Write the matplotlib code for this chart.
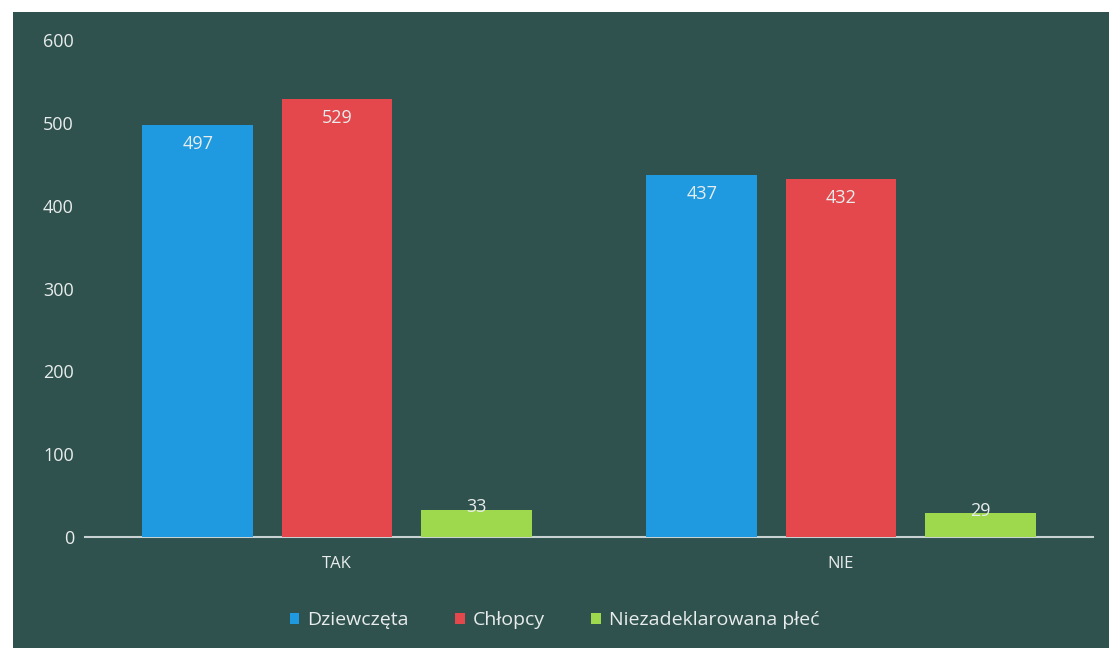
import matplotlib
matplotlib.use("Agg")
import matplotlib.pyplot as plt
import numpy as np
from matplotlib.patches import Rectangle

categories = ["TAK", "NIE"]
series_names = ["Dziewczęta", "Chłopcy", "Niezadeklarowana płeć"]
dziewczeta = [497, 437]
chlopcy = [529, 432]
niezadeklarowana = [33, 29]
y_ticks = [0, 100, 200, 300, 400, 500, 600]

colors = ["#1f9ae0", "#e5484c", "#9ed84c"]
bg = "#2f524f"
txt = "#e8ecec"

W, H = 1109, 648
fig = plt.figure(figsize=(W / 100, H / 100), dpi=100)
fig.patch.set_facecolor("white")
fig.patches.append(Rectangle((13 / W, 0), 1 - 13 / W, 1 - 12 / H,
                             transform=fig.transFigure, facecolor=bg,
                             edgecolor="none", zorder=-10))

left, right = 85 / W, 1093 / W
bottom, top = 1 - 537 / H, 1 - 40 / H
ax = fig.add_axes([left, bottom, right - left, top - bottom])
ax.set_facecolor("none")

x = np.arange(len(categories))
offset = 0.276
width = 0.22
data = [dziewczeta, chlopcy, niezadeklarowana]
for i, (vals, c, name) in enumerate(zip(data, colors, series_names)):
    pos = x + (i - 1) * offset
    bars = ax.bar(pos, vals, width=width, color=c, label=name, zorder=3)
    for b, v in zip(bars, vals):
        if v > 100:
            ax.text(b.get_x() + b.get_width() / 2, v - 12, str(v),
                    ha="center", va="top", color=txt, fontsize=13,
                    family="Open Sans", zorder=4)
        else:
            ax.text(b.get_x() + b.get_width() / 2, v - 8, str(v),
                    ha="center", va="bottom", color=txt, fontsize=13,
                    family="Open Sans", zorder=4)

ax.set_xlim(-0.5, len(categories) - 0.5)
ax.set_ylim(0, 600)
ax.set_yticks(y_ticks)
ax.set_yticklabels([str(t) for t in y_ticks], color=txt, fontsize=13,
                   family="Open Sans")
ax.set_xticks(x)
ax.set_xticklabels(categories, color=txt, fontsize=12, family="Open Sans")
ax.tick_params(axis="both", length=0)
ax.tick_params(axis="y", pad=8)
ax.tick_params(axis="x", pad=14)
for s in ["top", "right", "left"]:
    ax.spines[s].set_visible(False)
ax.spines["bottom"].set_color("#c8d2d2")
ax.spines["bottom"].set_linewidth(1.5)

leg = fig.legend(loc="center", bbox_to_anchor=(0.5, 1 - 620 / H), ncol=3,
                 frameon=False, handlelength=0.5,
                 handleheight=0.5, handletextpad=0.4, columnspacing=2.4,
                 prop={"family": "Open Sans", "size": 14})
for t in leg.get_texts():
    t.set_color(txt)

fig.savefig("out.png", dpi=100, facecolor=fig.get_facecolor())
